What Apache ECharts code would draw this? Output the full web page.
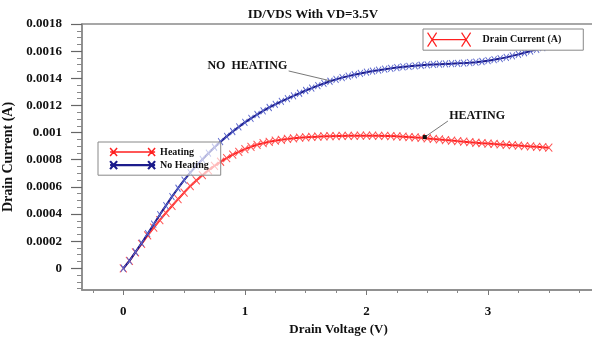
<!DOCTYPE html>
<html><head><meta charset="utf-8">
<script src="https://cdn.jsdelivr.net/npm/echarts@6/dist/echarts.min.js"></script>
<style>html,body{margin:0;padding:0;background:#fff}#c{width:592px;height:339px}</style>
</head><body><div id="c"></div>
<script>
const chartTitle = 'ID/VDS With VD=3.5V';
const xName = 'Drain Voltage (V)';
const yName = 'Drain Current (A)';
const legendMain = 'Drain Current (A)';
const seriesNames = ['Heating', 'No Heating'];

const voltage = [0,0.05,0.1,0.15,0.2,0.25,0.3,0.35,0.4,0.45,0.5,0.55,0.6,0.65,0.7,0.75,0.8,0.85,0.9,0.95,
  1,1.05,1.1,1.15,1.2,1.25,1.3,1.35,1.4,1.45,1.5,1.55,1.6,1.65,1.7,1.75,1.8,1.85,1.9,1.95,
  2,2.05,2.1,2.15,2.2,2.25,2.3,2.35,2.4,2.45,2.5,2.55,2.6,2.65,2.7,2.75,2.8,2.85,2.9,2.95,
  3,3.05,3.1,3.15,3.2,3.25,3.3,3.35,3.4,3.45,3.5];

const heating = [0,0.000055,0.000118,0.000180,0.000242,0.000300,0.000355,0.000408,0.000459,0.000509,
  0.000558,0.000605,0.000647,0.000686,0.000722,0.000755,0.000785,0.000812,0.000837,0.000858,
  0.000878,0.000895,0.000910,0.000922,0.000932,0.000940,0.000947,0.000953,0.000958,0.000962,
  0.000965,0.000968,0.000970,0.000972,0.000973,0.000974,0.000975,0.000976,0.000976,0.000977,
  0.000977,0.000977,0.000976,0.000975,0.000974,0.000972,0.000970,0.000967,0.000964,0.000961,
  0.000957,0.000953,0.000949,0.000945,0.000941,0.000937,0.000933,0.000929,0.000925,0.000922,
  0.000919,0.000916,0.000913,0.000910,0.000907,0.000904,0.000901,0.000898,0.000895,0.000892,0.000889];

const noHeating = [0,0.000055,0.000120,0.000185,0.000255,0.000325,0.000395,0.000462,0.000528,0.000590,
  0.000650,0.000705,0.000755,0.000802,0.000848,0.000892,0.000933,0.000972,0.001008,0.001042,
  0.001075,0.001105,0.001133,0.001160,0.001185,0.001208,0.001230,0.001250,0.001270,0.001290,
  0.001310,0.001328,0.001346,0.001362,0.001378,0.001392,0.001405,0.001416,0.001426,0.001436,
  0.001445,0.001453,0.001460,0.001467,0.001473,0.001479,0.001484,0.001488,0.001492,0.001496,
  0.001499,0.001502,0.001504,0.001506,0.001508,0.001510,0.001512,0.001515,0.001519,0.001524,
  0.001530,0.001537,0.001545,0.001554,0.001565,0.001576,0.001588,0.001600,0.001613,0.001626,0.001640];

const xMajorTicks = [0,1,2,3];
const xMinorTicks = [-0.25,0.25,0.5,0.75,1.25,1.5,1.75,2.25,2.5,2.75,3.25,3.5,3.75];
const yMajorTicks = [0,0.0002,0.0004,0.0006,0.0008,0.001,0.0012,0.0014,0.0016,0.0018];
const yTickLabels = ['0','0.0002','0.0004','0.0006','0.0008','0.001','0.0012','0.0014','0.0016','0.0018'];
const yMinorTicks = [-0.00015,-0.0001,-0.00005,
  0.00005,0.0001,0.00015,0.00025,0.0003,0.00035,0.00045,0.0005,0.00055,0.00065,0.0007,0.00075,
  0.00085,0.0009,0.00095,0.00105,0.0011,0.00115,0.00125,0.0013,0.00135,0.00145,0.0015,0.00155,
  0.00165,0.0017,0.00175];

const annotations = [
  {text: 'NO  HEATING', at: [1.02, 0.00149], from: [1.36, 0.001454], to: [1.713, 0.001379], dot: false},
  {text: 'HEATING', at: [2.91, 0.001122], from: [2.67, 0.001085], to: [2.48, 0.000967], dot: true}
];

const FONT = 'Liberation Serif';
const RED = '#ff2020', RED_M = '#ff5050', BLUE = '#1c1c8c', BLUE_M = '#5a66cc';
const XMIN = -0.34, XMAX = 3.88, YMIN = -0.00016, YMAX = 0.0018;

const chart = echarts.init(document.getElementById('c'), null, {renderer: 'canvas'});
const xsym = 'path://M0,0L10,12M10,0L0,12';

const option = {
  animation: false,
  backgroundColor: '#fff',
  title: {
    text: chartTitle, left: 308, top: 3, textAlign: 'center',
    textStyle: {fontFamily: FONT, fontWeight: 'bold', fontSize: 13, color: '#111'}
  },
  grid: {left: 82, top: 24, right: -3, bottom: 49, show: true, borderColor: '#8a8a8a', borderWidth: 1.5,
    containLabel: false, outerBoundsMode: 'none'},
  legend: [
    {
      data: [{name: legendMain, icon: 'path://M0,0L9,14M9,0L0,14M4.5,7L38.5,7M34,0L43,14M43,0L34,14',
        itemStyle: {color: 'rgba(0,0,0,0)', borderColor: RED, borderWidth: 1.2}}],
      left: 423, top: 29, itemWidth: 43, itemHeight: 14,
      padding: [3, 22, 3, 4], borderColor: '#888', borderWidth: 1, backgroundColor: '#fff',
      textStyle: {fontFamily: FONT, fontWeight: 'bold', fontSize: 10, color: '#111', padding: [0, 0, 0, 7]},
      selectedMode: false
    },
    {
      orient: 'vertical',
      data: [
        {name: seriesNames[0], icon: 'path://M0,0L7,8M7,0L0,8M0,4L45,4M38,0L45,8M45,0L38,8',
          itemStyle: {color: 'rgba(0,0,0,0)', borderColor: RED, borderWidth: 1.5}},
        {name: seriesNames[1], icon: 'path://M0,0L7,8M7,0L0,8M0,4L45,4M38,0L45,8M45,0L38,8',
          itemStyle: {color: 'rgba(0,0,0,0)', borderColor: BLUE, borderWidth: 2.2}}
      ],
      left: 98, top: 142, itemWidth: 45, itemHeight: 8, itemGap: 3,
      padding: [5, 12, 5, 11], borderColor: '#888', borderWidth: 1, backgroundColor: 'rgba(255,255,255,0.65)',
      textStyle: {fontFamily: FONT, fontWeight: 'bold', fontSize: 10, color: '#111'},
      selectedMode: false
    }
  ],
  xAxis: [
    {
      type: 'value', min: XMIN, max: XMAX, position: 'bottom',
      name: xName, nameLocation: 'middle', nameGap: 29,
      nameTextStyle: {fontFamily: FONT, fontWeight: 'bold', fontSize: 13, color: '#111'},
      axisLine: {show: true, onZero: false, lineStyle: {color: '#8a8a8a', width: 1.5}},
      axisTick: {show: true, customValues: xMajorTicks, length: 5, lineStyle: {color: '#777'}},
      axisLabel: {customValues: xMajorTicks, margin: 15, fontFamily: FONT, fontWeight: 'bold', fontSize: 13, color: '#111'},
      splitLine: {show: false}
    },
    {
      type: 'value', min: XMIN, max: XMAX, position: 'bottom', gridIndex: 0,
      axisLine: {show: false, onZero: false},
      axisTick: {show: true, customValues: xMinorTicks, length: 3, lineStyle: {color: '#888'}},
      axisLabel: {show: false}, splitLine: {show: false}
    }
  ],
  yAxis: [
    {
      type: 'value', min: YMIN, max: YMAX, position: 'left',
      name: yName, nameLocation: 'middle', nameGap: 54, nameRotate: 90,
      nameTextStyle: {fontFamily: FONT, fontWeight: 'bold', fontSize: 14, color: '#111'},
      axisLine: {show: true, onZero: false, lineStyle: {color: '#8a8a8a', width: 1.5}},
      axisTick: {show: true, customValues: yMajorTicks, length: 11, lineStyle: {color: '#666', width: 1.2}},
      axisLabel: {customValues: yMajorTicks, margin: 20, fontFamily: FONT, fontWeight: 'bold', fontSize: 13, color: '#111',
        formatter: function (v) { const i = yMajorTicks.findIndex(t => Math.abs(t - v) < 1e-9); return i >= 0 ? yTickLabels[i] : ''; }},
      splitLine: {show: false}
    },
    {
      type: 'value', min: YMIN, max: YMAX, position: 'left', gridIndex: 0,
      axisLine: {show: false, onZero: false},
      axisTick: {show: true, customValues: yMinorTicks, length: 5, lineStyle: {color: '#888'}},
      axisLabel: {show: false}, splitLine: {show: false}
    }
  ],
  series: [
    {
      name: legendMain, type: 'line', data: [], symbol: 'none',
      lineStyle: {color: RED}, itemStyle: {color: RED}
    },
    {
      name: seriesNames[0], type: 'line', xAxisIndex: 0, yAxisIndex: 0,
      data: voltage.map((v, i) => [v, heating[i]]),
      showAllSymbol: true, symbol: xsym, symbolSize: [7, 8],
      lineStyle: {color: RED, width: 2},
      itemStyle: {color: 'rgba(0,0,0,0)', borderColor: RED_M, borderWidth: 1},
      z: 2
    },
    {
      name: seriesNames[1], type: 'line', xAxisIndex: 0, yAxisIndex: 0,
      data: voltage.map((v, i) => [v, noHeating[i]]),
      showAllSymbol: true, symbol: xsym, symbolSize: [5, 7],
      lineStyle: {color: BLUE, width: 2},
      itemStyle: {color: 'rgba(0,0,0,0)', borderColor: BLUE_M, borderWidth: 1},
      z: 3
    }
  ]
};
chart.setOption(option);

const px = p => chart.convertToPixel({xAxisIndex: 0, yAxisIndex: 0}, p);
const graphics = [];
annotations.forEach(a => {
  const t = px(a.at), f = px(a.from), e = px(a.to);
  graphics.push({type: 'text', x: t[0], y: t[1], z: 10,
    style: {text: a.text, fontFamily: FONT, fontWeight: 'bold', fontSize: 12, fill: '#111', textAlign: 'center', textVerticalAlign: 'middle'}});
  graphics.push({type: 'line', z: 10, shape: {x1: f[0], y1: f[1], x2: e[0], y2: e[1]}, style: {stroke: '#555', lineWidth: 0.8}});
  if (a.dot) graphics.push({type: 'rect', z: 11, shape: {x: e[0] - 2, y: e[1] - 2, width: 4, height: 4}, style: {fill: '#111'}});
});
chart.setOption({graphic: graphics});
</script>
</body></html>
